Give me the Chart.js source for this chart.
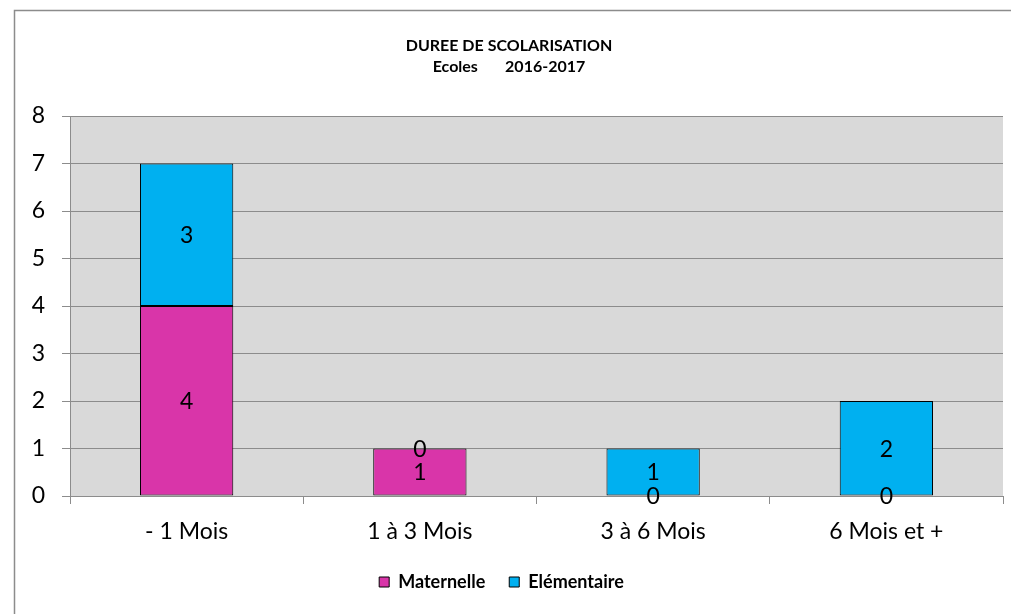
<!DOCTYPE html>
<html>
<head>
<meta charset="utf-8">
<script src="https://cdn.jsdelivr.net/npm/chart.js@4/dist/chart.umd.min.js"></script>
<style>
  html, body { margin: 0; padding: 0; background: #ffffff; }
  #c { display: block; }
</style>
</head>
<body>
<canvas id="c" width="1011" height="614"></canvas>
<script>
const categories = ['- 1 Mois', '1 à 3 Mois', '3 à 6 Mois', '6 Mois et +'];
const maternelle = [4, 1, 0, 0];
const elementaire = [3, 0, 1, 2];
const seriesNames = ['Maternelle', 'Elémentaire'];
const titleLines = ['DUREE DE SCOLARISATION', 'Ecoles\u00a0\u00a0\u00a0\u00a0\u00a0\u00a0\u00a02016-2017'];
const yMin = 0, yMax = 8, yStep = 1;

const FONT = 'Lato, "Open Sans", sans-serif';

const framePlugin = {
  id: 'frame',
  beforeDraw(chart) {
    const ctx = chart.ctx;
    const a = chart.chartArea;
    ctx.save();
    ctx.fillStyle = '#ffffff';
    ctx.fillRect(0, 0, chart.width, chart.height);
    ctx.strokeStyle = '#8c8c8c';
    ctx.lineWidth = 1.5;
    ctx.strokeRect(14.5, 10.5, chart.width + 10, chart.height + 10);
    ctx.fillStyle = '#d9d9d9';
    ctx.fillRect(a.left, a.top, a.right - a.left, a.bottom - a.top);
    // title
    ctx.fillStyle = '#000000';
    ctx.font = 'bold 16px ' + FONT;
    ctx.textAlign = 'center';
    ctx.textBaseline = 'middle';
    ctx.fillText(titleLines[0], 509, 46);
    ctx.fillText(titleLines[1], 509, 67);
    ctx.restore();
  }
};

const labelPlugin = {
  id: 'valueLabels',
  afterDatasetsDraw(chart) {
    const ctx = chart.ctx;
    ctx.save();
    ctx.fillStyle = '#000000';
    ctx.font = '23px ' + FONT;
    ctx.textAlign = 'center';
    ctx.textBaseline = 'middle';
    chart.data.datasets.forEach((ds, i) => {
      const meta = chart.getDatasetMeta(i);
      meta.data.forEach((el, j) => {
        const y = (el.y + el.base) / 2;
        ctx.fillText(String(ds.data[j]), el.x, y + 1);
      });
    });
    ctx.restore();
  }
};

new Chart(document.getElementById('c'), {
  type: 'bar',
  data: {
    labels: categories,
    datasets: [
      { label: seriesNames[0], data: maternelle, backgroundColor: '#d935a9', borderColor: '#000000', borderWidth: 1, borderSkipped: false },
      { label: seriesNames[1], data: elementaire, backgroundColor: '#00b0f0', borderColor: '#000000', borderWidth: 1, borderSkipped: false }
    ]
  },
  options: {
    responsive: false,
    animation: false,
    devicePixelRatio: 1,
    layout: { padding: { left: 0, right: 8, top: 116, bottom: 13 } },
    datasets: { bar: { categoryPercentage: 1.0, barPercentage: 0.4 } },
    plugins: {
      title: { display: false },
      tooltip: { enabled: false },
      legend: {
        display: true,
        position: 'bottom',
        labels: {
          font: { family: FONT, size: 18, weight: 'bold' },
          color: '#000000',
          boxWidth: 10,
          boxHeight: 10,
          padding: 24,
          generateLabels(chart) {
            return chart.data.datasets.map((ds, i) => ({
              text: ds.label,
              fillStyle: ds.backgroundColor,
              strokeStyle: '#000000',
              lineWidth: 1,
              hidden: false,
              datasetIndex: i
            }));
          }
        }
      }
    },
    scales: {
      x: {
        stacked: true,
        offset: true,
        afterFit(scale) { scale.height = 53; },
        grid: { display: true, drawOnChartArea: false, drawTicks: true, tickLength: 8, offset: true, color: '#8c8c8c' },
        border: { display: true, color: '#8c8c8c', width: 1 },
        ticks: { font: { family: FONT, size: 23 }, color: '#000000', padding: 14, maxRotation: 0 }
      },
      y: {
        stacked: true,
        min: yMin, max: yMax,
        afterFit(scale) { scale.width = 70; },
        grid: { display: true, drawOnChartArea: true, drawTicks: true, tickLength: 8, color: '#8c8c8c' },
        border: { display: true, color: '#8c8c8c', width: 1 },
        ticks: { stepSize: yStep, font: { family: FONT, size: 23 }, color: '#000000', padding: 17 }
      }
    }
  },
  plugins: [framePlugin, labelPlugin]
});
</script>
</body>
</html>
